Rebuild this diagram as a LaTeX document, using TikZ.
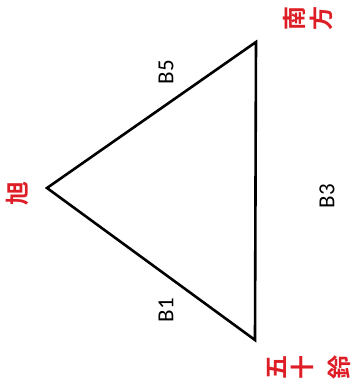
\documentclass[tikz,border=0pt]{standalone}
\usepackage{fontspec}
\setmainfont{Carlito}
\newfontfamily\cjk{Noto Sans CJK JP}[BoldFont={* Bold}]
\definecolor{labred}{RGB}{222,30,38}
\begin{document}
\begin{tikzpicture}[x=1pt,y=-1pt,
  edgelab/.style={font=\fontsize{23}{23}\selectfont, rotate=90, inner sep=0pt},
  placelab/.style={font=\cjk\bfseries\fontsize{24}{24}\selectfont, text=labred, rotate=90, inner sep=0pt},
  corner/.style={inner sep=0pt, minimum size=0pt}]
\useasboundingbox (0,0) rectangle (351,392);
\coordinate (A) at (47,188);
\coordinate (T) at (256,42);
\coordinate (U) at (255,340);
\draw[line width=2.6pt, line join=miter] (A) -- (T) -- (U) -- cycle;
\node[edgelab] (b5) at (166,72) {B5};
\node[edgelab] (b3) at (327,196) {B3};
\node[edgelab] (b1) at (166,310) {B1};
\node[placelab] (n1) at (294,18) {南};
\node[placelab] (n2) at (321,18) {方};
\node[placelab] (a1) at (17,193) {旭};
\node[placelab] (i1) at (277,367) {五};
\node[placelab] (i2) at (302,367) {十};
\node[placelab] (i3) at (339,367) {鈴};
\end{tikzpicture}
\end{document}
